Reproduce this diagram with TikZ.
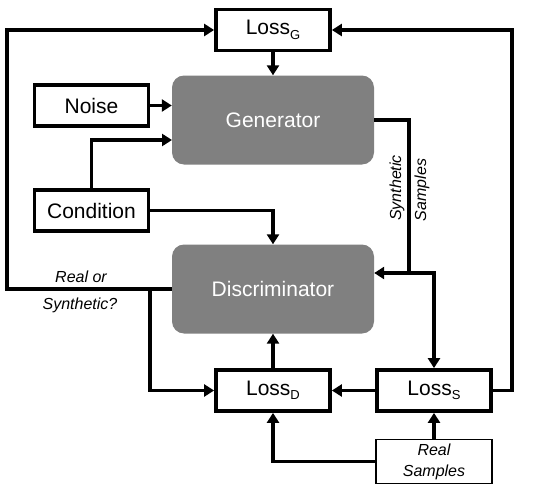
\documentclass[tikz,border=0pt]{standalone}
\usepackage{fontspec}
\setmainfont{Liberation Sans}
\usetikzlibrary{arrows.meta}
\definecolor{boxgray}{HTML}{808080}
\newcommand{\lsub}[1]{Loss\raisebox{-4.5pt}{\fontsize{13}{13}\selectfont #1}}
\tikzset{
  lbox/.style={draw=black, line width=3.8pt, fill=white, minimum width=114pt, minimum height=41pt, inner sep=0pt, font=\fontsize{21}{22}\selectfont},
  rbox/.style={draw=black, line width=1.5pt, fill=white, minimum width=116pt, minimum height=44pt, inner sep=0pt, align=center, font=\fontsize{16}{21}\selectfont\itshape},
  gbox/.style={fill=boxgray, rounded corners=12pt, minimum width=202pt, minimum height=89pt, inner sep=0pt, text=white, font=\fontsize{21}{22}\selectfont},
  conn/.style={line width=3.5pt},
  arr/.style={line width=3.5pt, -{Triangle[length=10pt,width=12pt]}},
  lab/.style={font=\fontsize{16}{18}\selectfont\itshape, inner sep=0pt}
}
\begin{document}
\begin{tikzpicture}[x=1pt,y=-1pt]
\useasboundingbox (0,0) rectangle (550,490);
\node[lbox] (lossG) at (273,30) {\lsub{G}};
\node[gbox] (gen) at (273,120) {Generator};
\node[lbox] (noise) at (91.5,105.5) {Noise};
\node[lbox] (cond) at (91.5,210.5) {Condition};
\node[gbox] (disc) at (273,289) {Discriminator};
\node[lbox] (lossD) at (273,390.5) {\lsub{D}};
\node[lbox] (lossS) at (434,390.5) {\lsub{S}};
\node[rbox] (real) at (434,461.5) {Real\\Samples};
\coordinate (gin) at (172,140);
\coordinate (sj) at (409,273);
\coordinate (lft) at (7,160);
\coordinate (rgt) at (512,200);
\coordinate (bl) at (150,289);
% connectors
\draw[arr] (lossG) -- (gen);
\draw[arr] (noise.east) -- (noise.east -| gen.west);
\draw[arr] (cond.north) |- (gin);
\draw[arr] (cond.east) -| (disc.north);
\draw[conn] (gen.east) -| (sj);
\draw[arr] (sj) -- (sj -| disc.east);
\draw[arr] (sj) -| (lossS.north);
\draw[arr] (disc.west) -| (lft) |- (lossG.west);
\draw[arr] (bl) |- (lossD.west);
\draw[arr] (lossD) -- (disc);
\draw[arr] (lossS) -- (lossD);
\draw[arr] (lossS.east) -| (rgt) |- (lossG.east);
\draw[arr] (real) -- (lossS);
\draw[arr] (real.west) -| (lossD.south);
% labels
\node[lab] (ro) at (81,277) {Real or};
\node[lab] (syn) at (80,305) {Synthetic?};
\node[lab, rotate=90] (ss1) at (397,188) {Synthetic};
\node[lab, rotate=90] (ss2) at (422,190) {Samples};
\end{tikzpicture}
\end{document}
